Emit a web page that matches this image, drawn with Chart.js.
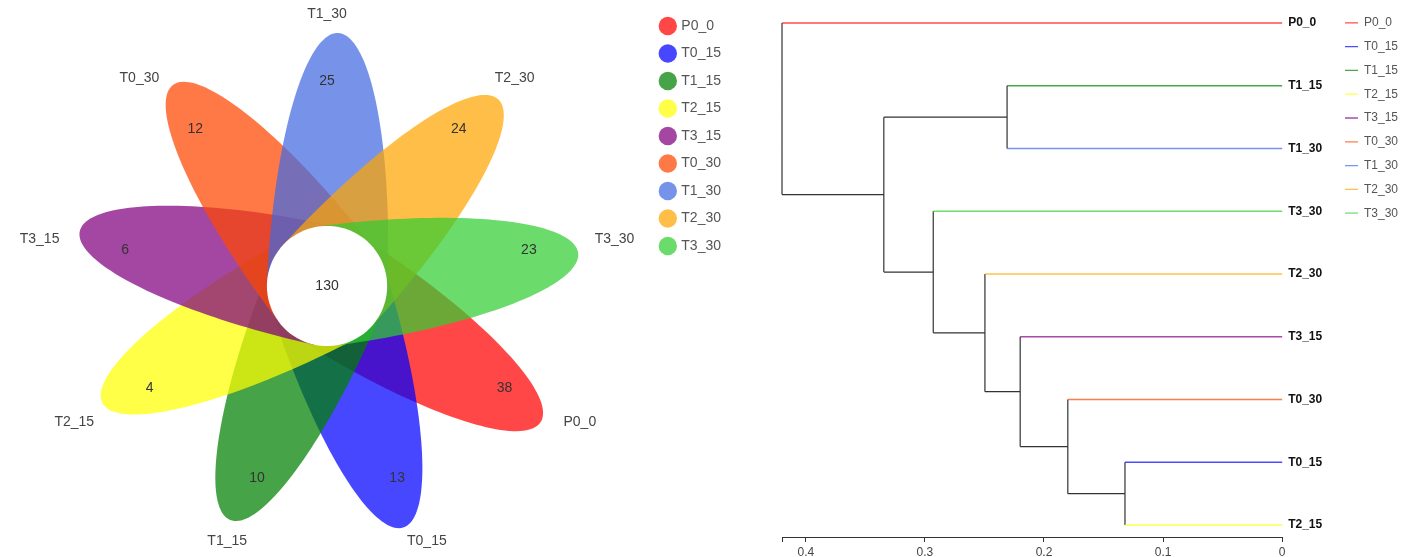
<!DOCTYPE html>
<html lang="en">
<head>
<meta charset="UTF-8" />
<title>Flower plot and sample clustering</title>
<script src="https://cdn.jsdelivr.net/npm/chart.js"></script>
<style>
  body { margin: 0; background: #fff; overflow: hidden; font-family: "Liberation Sans", Arial, sans-serif; }
  .flower { position: absolute; left: 0; top: 0; width: 731px; height: 557px; }
  .tree { position: absolute; left: 740px; top: 0; width: 668px; height: 557px; }
</style>
</head>
<body>
<div class="flower"><canvas id="flowerChart"></canvas></div>
<div class="tree"><canvas id="treeChart"></canvas></div>
<script>
// groups, in drawing order (clockwise from the lower right petal)
const groups = ['P0_0', 'T0_15', 'T1_15', 'T2_15', 'T3_15', 'T0_30', 'T1_30', 'T2_30', 'T3_30'];
const uniqueCounts = [38, 13, 10, 4, 6, 12, 25, 24, 23];
const coreCount = 130;
const groupColors = ['255,0,0', '0,0,255', '0,128,0', '255,255,0', '128,0,128', '255,69,0', '65,105,225', '255,165,0', '50,205,50'];

// clustering tree: leaves top to bottom, then merges (node i is called 'n' + i)
const leafOrder = ['P0_0', 'T1_15', 'T1_30', 'T3_30', 'T2_30', 'T3_15', 'T0_30', 'T0_15', 'T2_15'];
const mergeA = ['T0_15', 'T0_30', 'T3_15', 'T2_30', 'T3_30', 'T1_15', 'n5', 'P0_0'];
const mergeB = ['T2_15', 'n0', 'n1', 'n2', 'n3', 'T1_30', 'n4', 'n6'];
const mergeHeight = [0.132, 0.180, 0.220, 0.2496, 0.293, 0.231, 0.3345, 0.420];
const axisTicks = [0, 0.1, 0.2, 0.3, 0.4];
const axisTickLabels = ['0', '0.1', '0.2', '0.3', '0.4'];

// flower geometry (data units): each petal is the outer half of an ellipse
// centred on the flower centre; the core circle hides the cut edge
const startAngle = -30, stepAngle = -40, petalTurn = -2.5;
const petalLong = 2.99, petalShort = 0.71;
const coreRadius = 0.71, countRadius = 2.42;
const nameRadius = 3.21, nameHalfWidth = 0.236;

function petalPoints(i) {
  const a = (startAngle + stepAngle * i + petalTurn) * Math.PI / 180;
  const ca = Math.cos(a), sa = Math.sin(a);
  const pts = [];
  for (let k = 0; k <= 90; k++) {
    const t = (k / 90 - 0.5) * Math.PI;
    const u = petalLong * Math.cos(t);
    const v = petalShort * Math.sin(t);
    pts.push({ x: u * ca - v * sa, y: u * sa + v * ca });
  }
  return pts;
}

function circlePoints(r) {
  const pts = [];
  for (let k = 0; k <= 90; k++) {
    const t = k / 90 * 2 * Math.PI;
    pts.push({ x: r * Math.cos(t), y: r * Math.sin(t) });
  }
  return pts;
}

const flowerSets = groups.map((g, i) => ({
  label: g,
  data: petalPoints(i),
  showLine: true,
  fill: 'shape',
  backgroundColor: 'rgba(' + groupColors[i] + ',0.72)',
  borderColor: 'rgba(0,0,0,0)',
  borderDash: [1, 0],
  pointRadius: 0,
  order: groups.length - i + 1
}));
flowerSets.push({
  label: 'core',
  data: circlePoints(coreRadius),
  showLine: true,
  fill: 'shape',
  backgroundColor: '#ffffff',
  borderColor: 'rgba(0,0,0,0)',
  borderDash: [1, 0],
  pointRadius: 0,
  order: 0
});

// numbers and group names on the flower
const flowerText = {
  id: 'flowerText',
  afterDatasetsDraw(chart) {
    const { ctx, scales: { x, y } } = chart;
    ctx.save();
    ctx.textAlign = 'center';
    ctx.textBaseline = 'middle';
    ctx.font = '14px "Liberation Sans", Arial, sans-serif';
    groups.forEach((g, i) => {
      const a = (startAngle + stepAngle * i) * Math.PI / 180;
      ctx.fillStyle = '#333';
      ctx.fillText(String(uniqueCounts[i]),
        x.getPixelForValue(countRadius * Math.cos(a)), y.getPixelForValue(countRadius * Math.sin(a)));
      ctx.fillStyle = '#444';
      ctx.fillText(g,
        x.getPixelForValue((nameRadius + nameHalfWidth) * Math.cos(a)), y.getPixelForValue(nameRadius * Math.sin(a)));
    });
    ctx.fillStyle = '#333';
    ctx.fillText(String(coreCount), x.getPixelForValue(0), y.getPixelForValue(0));
    ctx.restore();
  }
};

new Chart(document.getElementById('flowerChart'), {
  type: 'scatter',
  data: { datasets: flowerSets },
  options: {
    responsive: true,
    maintainAspectRatio: false,
    animation: false,
    layout: { padding: { top: 5.5, left: 0, right: 0, bottom: 0 } },
    scales: {
      x: { type: 'linear', display: false, min: -3.861, max: 3.787 },
      y: { type: 'linear', display: false, min: -3.2, max: 3.312 }
    },
    plugins: {
      tooltip: { enabled: false },
      legend: {
        position: 'right',
        align: 'start',
        labels: {
          usePointStyle: true,
          pointStyle: 'circle',
          boxWidth: 13,
          boxHeight: 13,
          padding: 13.5,
          color: '#555',
          font: { size: 14, family: '"Liberation Sans", Arial, sans-serif' },
          filter: item => item.datasetIndex < groups.length,
          sort: (a, b) => a.datasetIndex - b.datasetIndex
        }
      }
    }
  },
  plugins: [flowerText]
});

// ---- clustering tree ----
const nodeY = {}, nodeH = {}, parentH = {};
leafOrder.forEach((n, i) => { nodeY[n] = i; nodeH[n] = 0; });
mergeA.forEach((a, i) => {
  const b = mergeB[i], id = 'n' + i;
  nodeY[id] = (nodeY[a] + nodeY[b]) / 2;
  nodeH[id] = mergeHeight[i];
  parentH[a] = mergeHeight[i];
  parentH[b] = mergeHeight[i];
});

const linkData = [];
mergeA.forEach((a, i) => {
  const b = mergeB[i], h = mergeHeight[i];
  linkData.push({ x: h, y: nodeY[a] }, { x: h, y: nodeY[b] }, { x: null, y: null });
  [a, b].forEach(c => {
    if (nodeH[c] > 0) {
      linkData.push({ x: nodeH[c], y: nodeY[c] }, { x: h, y: nodeY[c] }, { x: null, y: null });
    }
  });
});

const treeSets = groups.map((g, i) => ({
  label: g,
  data: [{ x: parentH[g], y: nodeY[g] }, { x: 0, y: nodeY[g] }],
  showLine: true,
  borderColor: 'rgba(' + groupColors[i] + ',0.7)',
  backgroundColor: 'rgba(' + groupColors[i] + ',0.7)',
  borderWidth: 1.3,
  pointRadius: 0,
  pointStyle: 'line',
  clip: false
}));
treeSets.push({
  label: 'links',
  data: linkData,
  showLine: true,
  spanGaps: false,
  borderColor: '#333',
  borderWidth: 1.2,
  pointRadius: 0,
  clip: false
});

function noEdgePadding(s) {
  s.paddingTop = 0; s.paddingBottom = 0; s.paddingLeft = 0; s.paddingRight = 0;
}

new Chart(document.getElementById('treeChart'), {
  type: 'scatter',
  data: { datasets: treeSets },
  options: {
    responsive: true,
    maintainAspectRatio: false,
    animation: false,
    layout: { padding: { top: 5, left: 42, right: 0, bottom: 0 } },
    scales: {
      x: {
        type: 'linear',
        position: 'bottom',
        reverse: true,
        min: 0,
        max: 0.42,
        afterBuildTicks: s => { s.ticks = axisTicks.concat([s.max]).map(v => ({ value: v })); },
        afterFit: s => { s.height = 20; noEdgePadding(s); },
        grid: { display: true, drawOnChartArea: false, drawTicks: true, tickLength: 5, color: '#333' },
        border: { display: true, color: '#333', width: 1 },
        ticks: {
          autoSkip: false,
          maxRotation: 0,
          padding: 3,
          color: '#444',
          font: { size: 12, family: '"Liberation Sans", Arial, sans-serif' },
          callback: v => { const k = axisTicks.indexOf(v); return k >= 0 ? axisTickLabels[k] : ''; }
        }
      },
      y: {
        type: 'linear',
        position: 'right',
        reverse: true,
        min: -0.287,
        max: 8.191,
        afterBuildTicks: s => { s.ticks = leafOrder.map((_, i) => ({ value: i })); },
        afterFit: s => { s.width = 51; noEdgePadding(s); },
        grid: { display: false, drawTicks: false },
        border: { display: false },
        ticks: {
          autoSkip: false,
          padding: 6,
          color: '#111',
          font: { size: 12, weight: 'bold', family: '"Liberation Sans", Arial, sans-serif' },
          callback: v => leafOrder[v]
        }
      }
    },
    plugins: {
      tooltip: { enabled: false },
      legend: {
        position: 'right',
        align: 'start',
        labels: {
          usePointStyle: true,
          pointStyleWidth: 13,
          boxHeight: 12,
          padding: 11.8,
          color: '#555',
          font: { size: 12, family: '"Liberation Sans", Arial, sans-serif' },
          filter: item => item.datasetIndex < groups.length
        }
      }
    }
  }
});
</script>
</body>
</html>
